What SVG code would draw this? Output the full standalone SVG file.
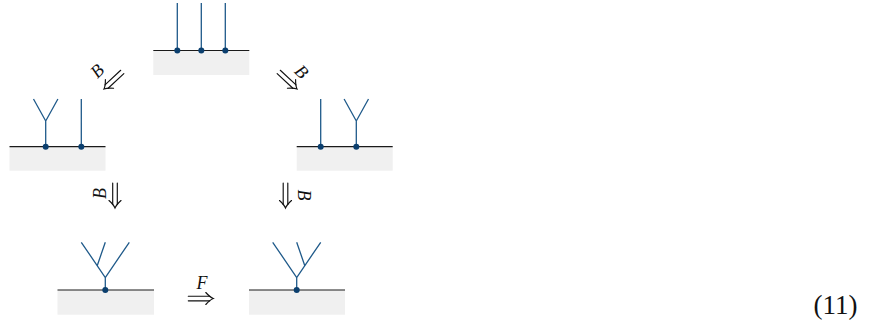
<svg xmlns="http://www.w3.org/2000/svg" xmlns:xlink="http://www.w3.org/1999/xlink" width="891" height="324" viewBox="0 0 891 324">
<defs>
<style>
.bg{fill:#f0f0f0;stroke:none}
.base{stroke:#1a1a1a;stroke-width:1.2;fill:none}
.str{stroke:#1f5a8a;stroke-width:1.3;fill:none;stroke-linecap:butt}
.dot{fill:#0b3f6e}
.arr{stroke:#111;stroke-width:1.15;fill:none;stroke-linecap:round}
.lab{font-family:"Liberation Serif",serif;font-style:italic;font-size:18px;fill:#111}
.eq{font-family:"Liberation Serif",serif;font-size:27px;fill:#111}
</style>
<g id="darrow">
<path class="arr" d="M-25,-2.3 H-3.5 M-25,2.3 H-3.5"/>
<path class="arr" d="M-7.5,-6 C-5,-3.2 -2.8,-1.1 0,0 C-2.8,1.1 -5,3.2 -7.5,6"/>
</g>
</defs>

<g id="top">
<rect class="bg" x="153.3" y="50.5" width="96" height="24.5"/>
<line class="base" x1="153.3" y1="50.5" x2="249.3" y2="50.5"/>
<path class="str" d="M177.3,3 V50.5 M201.3,3 V50.5 M225.3,3 V50.5"/>
<circle class="dot" cx="177.3" cy="50.5" r="3"/>
<circle class="dot" cx="201.3" cy="50.5" r="3"/>
<circle class="dot" cx="225.3" cy="50.5" r="3"/>
</g>

<g id="left">
<rect class="bg" x="9.5" y="146.7" width="96" height="24"/>
<line class="base" x1="9.5" y1="146.7" x2="105.5" y2="146.7"/>
<path class="str" d="M45.7,146.7 V121 M33.5,99 L45.7,121 L57.9,99 M81.3,99 V146.7"/>
<circle class="dot" cx="45.7" cy="146.7" r="3"/>
<circle class="dot" cx="81.3" cy="146.7" r="3"/>
</g>

<g id="right">
<rect class="bg" x="296.7" y="146.7" width="96" height="24"/>
<line class="base" x1="296.7" y1="146.7" x2="392.7" y2="146.7"/>
<path class="str" d="M320.7,99 V146.7 M356.3,146.7 V121 M344.1,99 L356.3,121 L368.5,99"/>
<circle class="dot" cx="320.7" cy="146.7" r="3"/>
<circle class="dot" cx="356.3" cy="146.7" r="3"/>
</g>

<g id="bottomleft">
<rect class="bg" x="57.5" y="290" width="96.5" height="24.7"/>
<line class="base" x1="57.5" y1="290" x2="154" y2="290"/>
<path class="str" d="M105.3,290 V277.5 M81.3,242.3 L105.3,277.5 L129.3,242.3 M97.2,265.7 L105.3,242.3"/>
<circle class="dot" cx="105.3" cy="290" r="3"/>
</g>

<g id="bottomright">
<rect class="bg" x="249" y="290" width="96" height="24.7"/>
<line class="base" x1="249" y1="290" x2="345" y2="290"/>
<path class="str" d="M296.7,290 V277.5 M272.7,242.3 L296.7,277.5 L320.7,242.3 M304.8,265.7 L296.7,242.3"/>
<circle class="dot" cx="296.7" cy="290" r="3"/>
</g>

<g id="connectors">
<use xlink:href="#darrow" transform="translate(104,89) rotate(137)"/>
<text class="lab" text-anchor="middle" transform="translate(101.5,75) rotate(-45)">B</text>
<use xlink:href="#darrow" transform="translate(297,89) rotate(43)"/>
<text class="lab" text-anchor="middle" transform="translate(297.5,76) rotate(45)">B</text>
<use xlink:href="#darrow" transform="translate(115,208) rotate(90)"/>
<text class="lab" text-anchor="middle" transform="translate(106,193.5) rotate(-90)">B</text>
<use xlink:href="#darrow" transform="translate(285.5,208) rotate(90)"/>
<text class="lab" text-anchor="middle" transform="translate(297.5,195) rotate(90)">B</text>
<use xlink:href="#darrow" transform="translate(213.3,298.5)"/>
<text class="lab" text-anchor="middle" x="202" y="288.5">F</text>
</g>

<text class="eq" x="835.5" y="314" text-anchor="middle">(11)</text>
</svg>
